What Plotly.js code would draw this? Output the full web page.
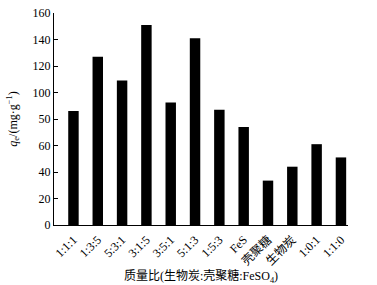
<!DOCTYPE html>
<html><head><meta charset="utf-8">
<script src="https://cdn.plot.ly/plotly-3.0.1.min.js"></script>
<style>html,body{margin:0;padding:0;background:#fff}</style>
</head><body>
<div id="chart" style="width:377px;height:285px"></div>
<script>
const categories = ["1:1:1","1:3:5","5:3:1","3:1:5","3:5:1","5:1:3","1:5:3","FeS","壳聚糖","生物炭","1:0:1","1:1:0"];
const qeValues = [86, 127, 109, 151, 92.5, 141, 87, 74, 33.5, 44, 61, 51];
const yTickVals = [0, 20, 40, 60, 80, 100, 120, 140, 160];
const yTickText = ["0", "20", "40", "60", "50", "100", "120", "140", "160"];

const fontSerif = "Liberation Serif, Times New Roman, serif";
const trace = {
  type: "bar",
  x: categories.map((_, i) => i),
  y: qeValues,
  width: 0.43,
  marker: {color: "#000", line: {width: 0}},
  hoverinfo: "none"
};
const layout = {
  width: 377, height: 285,
  margin: {l: 54, r: 29, t: 13, b: 60},
  paper_bgcolor: "#fff", plot_bgcolor: "#fff",
  showlegend: false,
  font: {family: fontSerif, size: 12, color: "#000"},
  xaxis: {
    range: [-0.8, 11.29],
    tickvals: categories.map((_, i) => i),
    ticktext: categories,
    tickangle: -45,
    ticks: "", ticklabelstandoff: 2,
    showgrid: false, zeroline: false,
    showline: true, linecolor: "#000", linewidth: 1,
    tickfont: {family: fontSerif + ", Noto Sans CJK SC", size: 12},
    title: {text: "质量比(生物炭:壳聚糖:FeSO<sub>4</sub>)", font: {family: fontSerif + ", Noto Sans CJK SC", size: 12}, standoff: 4}
  },
  yaxis: {
    range: [0, 160],
    tickvals: yTickVals,
    ticktext: yTickText,
    ticks: "inside", ticklen: 4, tickcolor: "#000",
    showgrid: false, zeroline: false,
    showline: true, linecolor: "#000", linewidth: 1,
    tickfont: {family: fontSerif, size: 12},
    title: {text: "<i>q</i><sub>e</sub>/(mg·g<sup>−1</sup>)", font: {family: fontSerif, size: 12}, standoff: 12}
  }
};
Plotly.newPlot("chart", [trace], layout, {displayModeBar: false, staticPlot: true});
</script>
</body></html>
